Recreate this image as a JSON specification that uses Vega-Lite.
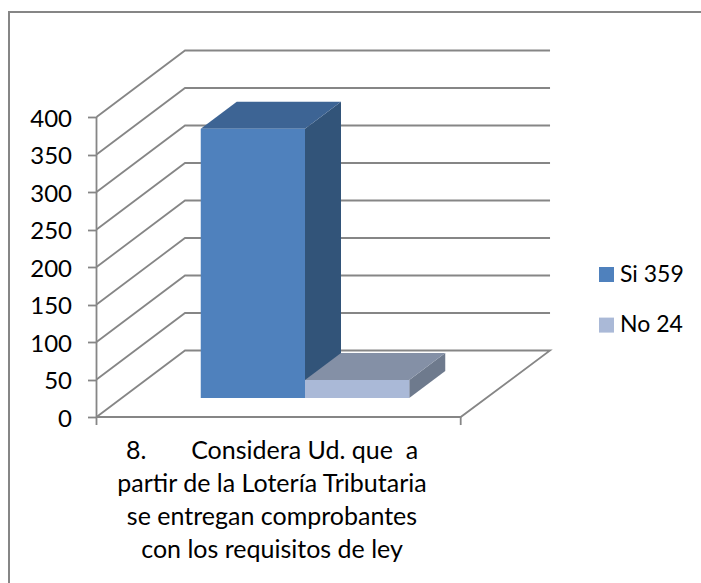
{
  "$schema": "https://vega.github.io/schema/vega-lite/v6.json",
  "width": 692,
  "height": 571,
  "padding": {"left": 9, "top": 12, "right": 0, "bottom": 0},
  "autosize": "none",
  "background": "white",
  "view": {"stroke": null},
  "datasets": {
    "frame": [
      {"i": 0, "x": -116.67, "y": -221.3},
      {"i": 1, "x": -116.67, "y": 540},
      {"i": 2, "x": 806, "y": 540}
    ],
    "walls": [
      {"g": "v400", "i": 0, "x": 0, "y": 400}, {"g": "v400", "i": 1, "x": 118, "y": 488.7}, {"g": "v400", "i": 2, "x": 604.7, "y": 488.7},
      {"g": "v350", "i": 0, "x": 0, "y": 350}, {"g": "v350", "i": 1, "x": 118, "y": 438.7}, {"g": "v350", "i": 2, "x": 604.7, "y": 438.7},
      {"g": "v300", "i": 0, "x": 0, "y": 300}, {"g": "v300", "i": 1, "x": 118, "y": 388.7}, {"g": "v300", "i": 2, "x": 604.7, "y": 388.7},
      {"g": "v250", "i": 0, "x": 0, "y": 250}, {"g": "v250", "i": 1, "x": 118, "y": 338.7}, {"g": "v250", "i": 2, "x": 604.7, "y": 338.7},
      {"g": "v200", "i": 0, "x": 0, "y": 200}, {"g": "v200", "i": 1, "x": 118, "y": 288.7}, {"g": "v200", "i": 2, "x": 604.7, "y": 288.7},
      {"g": "v150", "i": 0, "x": 0, "y": 150}, {"g": "v150", "i": 1, "x": 118, "y": 238.7}, {"g": "v150", "i": 2, "x": 604.7, "y": 238.7},
      {"g": "v100", "i": 0, "x": 0, "y": 100}, {"g": "v100", "i": 1, "x": 118, "y": 188.7}, {"g": "v100", "i": 2, "x": 604.7, "y": 188.7},
      {"g": "v50", "i": 0, "x": 0, "y": 50}, {"g": "v50", "i": 1, "x": 118, "y": 138.7}, {"g": "v50", "i": 2, "x": 604.7, "y": 138.7},
      {"g": "floor", "i": 0, "x": 0, "y": 0}, {"g": "floor", "i": 1, "x": 118, "y": 88.7}, {"g": "floor", "i": 2, "x": 604.7, "y": 88.7}, {"g": "floor", "i": 3, "x": 485.6, "y": 0}, {"g": "floor", "i": 4, "x": 0, "y": 0},
      {"g": "axis", "i": 0, "x": 0, "y": -10.7}, {"g": "axis", "i": 1, "x": 0, "y": 400},
      {"g": "tick", "i": 0, "x": 485.6, "y": -10.7}, {"g": "tick", "i": 1, "x": 485.6, "y": 0}
    ],
    "bars": [
      {"series": "Si 359", "value": 359, "x": 139, "x2": 278},
      {"series": "No 24", "value": 24, "x": 278, "x2": 417}
    ],
    "sides": [
      {"series": "Si 359", "x": 278, "y": 0, "y2": 359},
      {"series": "Si 359", "x": 326, "y": 36, "y2": 395},
      {"series": "No 24", "x": 417, "y": 0, "y2": 24},
      {"series": "No 24", "x": 465, "y": 36, "y2": 60}
    ],
    "tops": [
      {"series": "Si 359", "y": 359, "x": 139, "x2": 278},
      {"series": "Si 359", "y": 395, "x": 187, "x2": 326},
      {"series": "No 24", "y": 24, "x": 278, "x2": 417},
      {"series": "No 24", "y": 60, "x": 326, "x2": 465}
    ],
    "category": [
      {"x": 234, "y": -56, "label": "8.\u00a0\u00a0\u00a0\u00a0\u00a0\u00a0\u00a0Considera Ud. que \u00a0a\npartir de la Lotería Tributaria\nse entregan comprobantes\ncon los requisitos de ley"}
    ]
  },
  "encoding": {
    "x": {"field": "x", "type": "quantitative", "axis": null, "scale": {"domain": [-116.67, 806], "nice": false, "zero": false}}
  },
  "layer": [
    {
      "data": {"name": "frame"},
      "mark": {"type": "line", "color": "#868686", "strokeWidth": 2, "clip": false},
      "encoding": {
        "y": {"field": "y", "type": "quantitative", "axis": null, "scale": {"domain": [-221.3, 540], "nice": false, "zero": false}},
        "order": {"field": "i"}
      }
    },
    {
      "data": {"name": "walls"},
      "mark": {"type": "line", "color": "#868686", "strokeWidth": 1.8},
      "encoding": {
        "y": {
          "field": "y",
          "type": "quantitative",
          "scale": {"domain": [-221.3, 540], "nice": false, "zero": false},
          "axis": {
            "title": null,
            "values": [0, 50, 100, 150, 200, 250, 300, 350, 400],
            "offset": -87.5,
            "domain": false,
            "grid": false,
            "ticks": true,
            "tickSize": 9,
            "tickWidth": 1.8,
            "tickColor": "#868686",
            "labelFont": "Lato",
            "labelFontSize": 24,
            "labelColor": "#000000",
            "labelPadding": 16,
            "labelOffset": 2
          }
        },
        "detail": {"field": "g"},
        "order": {"field": "i"}
      }
    },
    {
      "data": {"name": "sides"},
      "transform": [{"filter": "datum.series === 'Si 359'"}],
      "mark": {"type": "area", "orient": "vertical", "color": "#325479"},
      "encoding": {
        "y": {"field": "y", "type": "quantitative", "axis": null, "scale": {"domain": [-246.6, 514.7], "nice": false, "zero": false}},
        "y2": {"field": "y2"}
      }
    },
    {
      "data": {"name": "tops"},
      "transform": [{"filter": "datum.series === 'Si 359'"}],
      "mark": {"type": "area", "orient": "horizontal", "color": "#3D6494"},
      "encoding": {
        "y": {"field": "y", "type": "quantitative", "axis": null, "scale": {"domain": [-246.6, 514.7], "nice": false, "zero": false}},
        "x2": {"field": "x2"}
      }
    },
    {
      "data": {"name": "sides"},
      "transform": [{"filter": "datum.series === 'No 24'"}],
      "mark": {"type": "area", "orient": "vertical", "color": "#6E7A8D"},
      "encoding": {
        "y": {"field": "y", "type": "quantitative", "axis": null, "scale": {"domain": [-246.6, 514.7], "nice": false, "zero": false}},
        "y2": {"field": "y2"}
      }
    },
    {
      "data": {"name": "tops"},
      "transform": [{"filter": "datum.series === 'No 24'"}],
      "mark": {"type": "area", "orient": "horizontal", "color": "#8490A6"},
      "encoding": {
        "y": {"field": "y", "type": "quantitative", "axis": null, "scale": {"domain": [-246.6, 514.7], "nice": false, "zero": false}},
        "x2": {"field": "x2"}
      }
    },
    {
      "data": {"name": "bars"},
      "mark": {"type": "rect"},
      "encoding": {
        "x2": {"field": "x2"},
        "y": {"field": "value", "type": "quantitative", "axis": null, "scale": {"domain": [-246.6, 514.7], "nice": false, "zero": false}},
        "y2": {"datum": 0},
        "fill": {
          "field": "series",
          "type": "nominal",
          "scale": {"domain": ["Si 359", "No 24"], "range": ["#4F81BD", "#AAB9D7"]},
          "legend": {
            "title": null,
            "orient": "none",
            "legendX": 586,
            "legendY": 251,
            "symbolType": "square",
            "symbolSize": 225,
            "symbolStrokeWidth": 0,
            "labelFont": "Lato",
            "labelFontSize": 23,
            "labelColor": "#000000",
            "rowPadding": 26.6,
            "labelOffset": 2
          }
        }
      }
    },
    {
      "data": {"name": "category"},
      "mark": {"type": "text", "font": "Lato", "fontSize": 25, "color": "#000000", "align": "center", "baseline": "alphabetic", "lineBreak": "\n", "lineHeight": 33},
      "encoding": {
        "y": {"field": "y", "type": "quantitative", "axis": null, "scale": {"domain": [-221.3, 540], "nice": false, "zero": false}},
        "text": {"field": "label"}
      }
    }
  ],
  "resolve": {"scale": {"y": "independent"}}
}
